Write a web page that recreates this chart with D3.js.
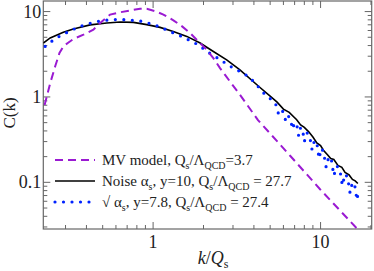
<!DOCTYPE html>
<html>
<head>
<meta charset="utf-8">
<script src="https://cdn.jsdelivr.net/npm/d3@7"></script>
<style>
    body { margin: 0; background: #fff; }
    svg text { font-family: "Liberation Serif", "DejaVu Serif", serif; }
</style>
</head>
<body>
<script>
// MV model (purple dashed)
const kMV = [0.225, 0.243, 0.260, 0.276, 0.291, 0.311, 0.334, 0.384, 0.44, 0.483, 0.554, 0.636, 0.729, 0.836, 0.917,
    1.028, 1.152, 1.322, 1.49, 1.663, 1.864, 2.09, 2.29, 2.51, 2.69, 3.3, 4.23, 6.58, 9.93, 16.7];
const cMV = [0.805, 1.45, 2.27, 3.27, 3.91, 4.32, 4.77, 5.36, 6.14, 7.36, 9.22, 9.81, 10.3, 10.8, 10.8,
    10.1, 9.22, 7.9, 6.71, 5.61, 4.47, 3.57, 2.85, 2.18, 1.81, 1.06, 0.536, 0.205, 0.083, 0.028];

// noise alpha_s, y=10 (black solid)
const kNoise = [0.221, 0.243, 0.291, 0.334, 0.421, 0.529, 0.636, 0.763, 0.917, 1.10, 1.32, 1.59, 1.91, 2.29, 2.75, 3.3,
    4.35, 5.0, 5.5, 6.0, 6.5, 7.2, 7.6, 8.0, 8.5, 9.0, 9.5, 10.0, 10.4, 11.0, 11.5, 12.0, 12.7, 13.4, 14.0, 14.8, 15.5, 16.1, 16.7];
const cNoise = [4.28, 4.91, 5.71, 6.26, 6.98, 7.36, 7.56, 7.48, 7.03, 6.53, 5.86, 5.12, 4.28, 3.41, 2.72, 2.08,
    1.29, 1.02, 0.87, 0.72, 0.66, 0.54, 0.47, 0.44, 0.39, 0.34, 0.29, 0.27, 0.238, 0.21, 0.19, 0.185, 0.158, 0.150, 0.131, 0.122, 0.108, 0.104, 0.097];

// running coupling sqrt(alpha_s), y=7.8 (blue dots)
const kRc = [0.2267, 0.252, 0.281, 0.316, 0.358, 0.408, 0.461, 0.517, 0.585, 0.665, 0.756, 0.856, 0.96, 1.075, 1.196, 1.322,
    1.45, 1.624, 1.781, 1.953, 2.14, 2.347, 2.57, 2.81, 3.09,
    3.3, 3.5, 3.7, 3.9, 4.1, 4.35, 4.6, 4.8, 5.0, 5.2, 5.4, 5.6, 5.8, 6.0, 6.2, 6.4, 6.6, 6.8, 7.0, 7.2, 7.4, 7.6, 7.8, 8.0,
    8.3, 8.6, 8.9, 9.2, 9.5, 9.8, 10.1, 10.4, 10.8, 11.2, 11.6, 12.0, 12.5, 13.0, 13.5, 14.0, 14.5, 15.0, 15.5, 16.0, 16.5, 16.8];
const cRc = [3.91, 4.59, 5.26, 5.86, 6.61, 7.16, 7.63, 7.9, 8.05, 8.05, 7.9, 7.69, 7.22, 6.71, 6.14, 5.61,
    5.22, 4.68, 4.28, 3.80, 3.32, 2.98, 2.65, 2.38, 2.10,
    2.0, 1.88, 1.72, 1.58, 1.42, 1.25, 1.10, 1.02, 0.96, 0.86, 0.82, 0.64, 0.72, 0.66, 0.52, 0.60, 0.56, 0.42, 0.50, 0.48, 0.35, 0.44, 0.42, 0.30,
    0.38, 0.35, 0.24, 0.31, 0.29, 0.19, 0.25, 0.23, 0.15, 0.20, 0.185, 0.12, 0.155, 0.145, 0.092, 0.125, 0.115, 0.075, 0.10, 0.092, 0.062, 0.078];

const xTicks = [1, 10];
const yTicks = [0.1, 1, 10];

const width = 374, height = 271;
const plotLeft = 43.3, plotRight = 371.7, plotTop = 1, plotBottom = 229;

let svg = d3.select("body").append("svg")
    .attr("width", width)
    .attr("height", height);

let x = d3.scaleLog().domain([0.221, 20.2]).range([plotLeft, plotRight]);
let y = d3.scaleLog().domain([0.0284, 13.3]).range([plotBottom, plotTop]);

//minor ticks for both log axes
function minorTicks(scale) {
    let [a, b] = scale.domain();
    let out = [];
    for (let e = Math.floor(Math.log10(a)); e <= Math.ceil(Math.log10(b)); e++) {
        for (let m = 1; m < 10; m++) {
            let v = m * Math.pow(10, e);
            if (v >= a && v <= b) out.push({ v: v, major: m === 1 });
        }
    }
    return out;
}

const axisColor = "#666";
let frame = svg.append("g");
frame.append("rect")
    .attr("x", plotLeft).attr("y", plotTop)
    .attr("width", plotRight - plotLeft).attr("height", plotBottom - plotTop)
    .attr("fill", "none").attr("stroke", axisColor).attr("stroke-width", 1.2);

// ticks pointing inwards on all four sides
minorTicks(x).forEach(t => {
    let len = t.major ? 7 : 4;
    let px = x(t.v);
    frame.append("line").attr("x1", px).attr("x2", px).attr("y1", plotBottom).attr("y2", plotBottom - len)
        .attr("stroke", axisColor);
    frame.append("line").attr("x1", px).attr("x2", px).attr("y1", plotTop).attr("y2", plotTop + len)
        .attr("stroke", axisColor);
});
minorTicks(y).forEach(t => {
    let len = t.major ? 7 : 4;
    let py = y(t.v);
    frame.append("line").attr("y1", py).attr("y2", py).attr("x1", plotLeft).attr("x2", plotLeft + len)
        .attr("stroke", axisColor);
    frame.append("line").attr("y1", py).attr("y2", py).attr("x1", plotRight).attr("x2", plotRight - len)
        .attr("stroke", axisColor);
});

// tick labels
svg.selectAll(".xlab").data(xTicks).enter().append("text")
    .attr("x", d => x(d)).attr("y", 248)
    .attr("text-anchor", "middle").attr("font-size", 18).attr("fill", "#222")
    .text(d => d);
svg.selectAll(".ylab").data(yTicks).enter().append("text")
    .attr("x", plotLeft - 2).attr("y", d => y(d) + 6)
    .attr("text-anchor", "end").attr("font-size", 18).attr("fill", "#222")
    .text(d => d);

// axis titles
svg.append("text")
    .attr("transform", "translate(15," + (y(1) + 16) + ") rotate(-90)")
    .attr("text-anchor", "middle").attr("font-size", 17).attr("fill", "#222")
    .text("C(k)");
let xt = svg.append("text")
    .attr("x", 213).attr("y", 264)
    .attr("text-anchor", "middle").attr("font-size", 18).attr("fill", "#222");
xt.append("tspan").attr("font-style", "italic").text("k");
xt.append("tspan").text("/");
xt.append("tspan").attr("font-style", "italic").text("Q");
xt.append("tspan").attr("dy", 4).attr("font-size", 12).text("s");

// curves
svg.append("clipPath").attr("id", "clip").append("rect")
    .attr("x", plotLeft).attr("y", plotTop).attr("width", plotRight - plotLeft).attr("height", plotBottom - plotTop);

let line = d3.line()
    .x(d => x(d[0]))
    .y(d => y(d[1]));

let plot = svg.append("g").attr("clip-path", "url(#clip)");

plot.append("path")
    .datum(kNoise.map((k, i) => [k, cNoise[i]]))
    .attr("d", line)
    .attr("fill", "none").attr("stroke", "#000").attr("stroke-width", 1.6);

plot.append("path")
    .datum(kRc.map((k, i) => [k, cRc[i]]))
    .attr("d", line)
    .attr("fill", "none").attr("stroke", "#0022ff").attr("stroke-width", 3.2)
    .attr("stroke-linecap", "round").attr("stroke-dasharray", "0 8.5");

plot.append("path")
    .datum(kMV.map((k, i) => [k, cMV[i]]))
    .attr("d", line)
    .attr("fill", "none").attr("stroke", "#9a1ad2").attr("stroke-width", 2)
    .attr("stroke-dasharray", "8 5");

// legend
const legendRows = [
    { y: 160, stroke: "#9a1ad2", width: 2, dash: "8 5", cap: "butt" },
    { y: 181, stroke: "#000", width: 1.6, dash: null, cap: "butt" },
    { y: 202, stroke: "#0022ff", width: 3.2, dash: "0 8.5", cap: "round" }
];
legendRows.forEach(r => {
    svg.append("line")
        .attr("x1", 55).attr("x2", 95).attr("y1", r.y).attr("y2", r.y)
        .attr("stroke", r.stroke).attr("stroke-width", r.width)
        .attr("stroke-dasharray", r.dash).attr("stroke-linecap", r.cap);
});

function legendText(yPos, parts) {
    let t = svg.append("text").attr("x", 102).attr("y", yPos + 5)
        .attr("font-size", 15).attr("fill", "#222");
    parts.forEach(p => {
        let s = t.append("tspan").text(p[0]);
        if (p[1]) s.attr("dy", p[1]);
        if (p[2]) s.attr("font-size", p[2]);
    });
}
legendText(160, [["MV model, Q"], ["s", 4, 10], ["/Λ", -4], ["QCD", 4, 10], ["=3.7", -4]]);
legendText(181, [["Noise α"], ["s", 4, 10], [", y=10, Q", -4], ["s", 4, 10], ["/Λ", -4], ["QCD", 4, 10], [" = 27.7", -4]]);
legendText(202, [["√ α"], ["s", 4, 10], [", y=7.8, Q", -4], ["s", 4, 10], ["/Λ", -4], ["QCD", 4, 10], [" = 27.4", -4]]);
</script>
</body>
</html>
